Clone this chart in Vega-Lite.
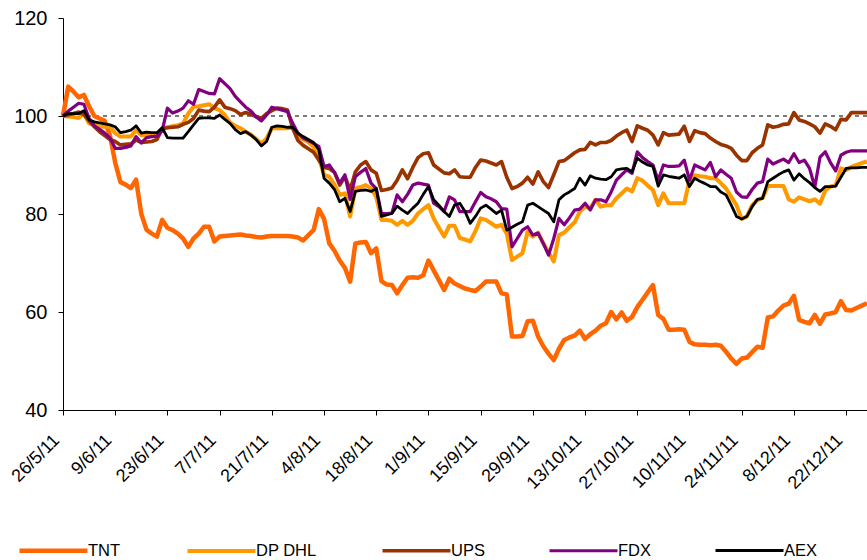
{
"$schema": "https://vega.github.io/schema/vega-lite/v6.json",
"width": 804, "height": 392,
"autosize": {"type": "none"},
"padding": {"left": 63, "top": 18, "right": 0, "bottom": 150},
"config": {"view": {"stroke": null}, "font": "Liberation Sans",
 "legend": {"orient": "none", "legendX": -46, "legendY": 496, "direction": "horizontal", "columns": 5, "symbolType": "stroke", "symbolSize": 4624, "labelFontSize": 16.5, "labelColor": "black", "columnPadding": 58, "labelOffset": -2, "title": null}},
"layer": [
{"data": {"values": [{"ref": 100}]},
 "mark": {"type": "rule", "stroke": "#7a7a7a", "strokeWidth": 2, "strokeDash": [4, 4]},
 "encoding": {"y": {"field": "ref", "type": "quantitative", "scale": {"domain": [40, 120]}}}},
{"data": {"values": [
{"d":"26/5/11","TNT":100,"DP DHL":100,"UPS":100,"FDX":100,"AEX":100},
{"d":"27/5/11","TNT":106,"DP DHL":99.9,"UPS":100.2,"FDX":101,"AEX":100.5},
{"d":"30/5/11","TNT":105,"DP DHL":99.8,"UPS":100.5,"FDX":101.8,"AEX":100.5},
{"d":"31/5/11","TNT":103.8,"DP DHL":99.6,"UPS":100.8,"FDX":102.6,"AEX":100.5},
{"d":"1/6/11","TNT":104.3,"DP DHL":100.5,"UPS":100.3,"FDX":102.4,"AEX":101.1},
{"d":"2/6/11","TNT":102,"DP DHL":98.5,"UPS":99,"FDX":99.5,"AEX":99.2},
{"d":"3/6/11","TNT":100,"DP DHL":98.2,"UPS":97.8,"FDX":98,"AEX":98.8},
{"d":"6/6/11","TNT":99.5,"DP DHL":97.8,"UPS":96.8,"FDX":97.3,"AEX":98.6},
{"d":"7/6/11","TNT":99,"DP DHL":97.8,"UPS":96,"FDX":96.5,"AEX":98.4},
{"d":"8/6/11","TNT":96,"DP DHL":97.8,"UPS":95.2,"FDX":95.5,"AEX":98.2},
{"d":"9/6/11","TNT":90.5,"DP DHL":96.5,"UPS":94.8,"FDX":93.4,"AEX":97.8},
{"d":"10/6/11","TNT":86.5,"DP DHL":95.8,"UPS":94.1,"FDX":93.4,"AEX":96.6},
{"d":"13/6/11","TNT":86,"DP DHL":95.8,"UPS":94.2,"FDX":93.6,"AEX":96.8},
{"d":"14/6/11","TNT":85.3,"DP DHL":95.8,"UPS":94.3,"FDX":93.9,"AEX":97.1},
{"d":"15/6/11","TNT":87,"DP DHL":97.1,"UPS":95.1,"FDX":95.8,"AEX":98},
{"d":"16/6/11","TNT":80,"DP DHL":96.1,"UPS":94.6,"FDX":94.5,"AEX":96.5},
{"d":"17/6/11","TNT":76.8,"DP DHL":96.1,"UPS":94.7,"FDX":95.6,"AEX":96.7},
{"d":"20/6/11","TNT":76,"DP DHL":96.1,"UPS":94.8,"FDX":95.8,"AEX":96.6},
{"d":"21/6/11","TNT":75.4,"DP DHL":96.2,"UPS":95.2,"FDX":95.9,"AEX":96.6},
{"d":"22/6/11","TNT":78.8,"DP DHL":97.5,"UPS":97.4,"FDX":97,"AEX":97.6},
{"d":"23/6/11","TNT":77.2,"DP DHL":97.7,"UPS":97.6,"FDX":101.6,"AEX":95.6},
{"d":"24/6/11","TNT":76.7,"DP DHL":97.9,"UPS":97.7,"FDX":100.6,"AEX":95.5},
{"d":"27/6/11","TNT":76,"DP DHL":98.1,"UPS":97.8,"FDX":101,"AEX":95.5},
{"d":"28/6/11","TNT":75,"DP DHL":98.5,"UPS":98.3,"FDX":101.6,"AEX":95.5},
{"d":"29/6/11","TNT":73.3,"DP DHL":100.5,"UPS":98.7,"FDX":103.1,"AEX":96.8},
{"d":"30/6/11","TNT":75,"DP DHL":101.9,"UPS":99.5,"FDX":102.4,"AEX":98.2},
{"d":"1/7/11","TNT":76,"DP DHL":102,"UPS":101.2,"FDX":105.4,"AEX":99.5},
{"d":"4/7/11","TNT":77.4,"DP DHL":102.2,"UPS":101,"FDX":105,"AEX":99.6},
{"d":"5/7/11","TNT":77.4,"DP DHL":102.4,"UPS":100.9,"FDX":104.6,"AEX":99.6},
{"d":"6/7/11","TNT":74.4,"DP DHL":101.6,"UPS":101.8,"FDX":104.5,"AEX":99.5},
{"d":"7/7/11","TNT":75.4,"DP DHL":101.2,"UPS":103.3,"FDX":107.6,"AEX":100.2},
{"d":"8/7/11","TNT":75.5,"DP DHL":100.2,"UPS":101.8,"FDX":106.6,"AEX":99.3},
{"d":"11/7/11","TNT":75.6,"DP DHL":98.6,"UPS":101.5,"FDX":105.6,"AEX":98.5},
{"d":"12/7/11","TNT":75.7,"DP DHL":98,"UPS":101.1,"FDX":104,"AEX":97.2},
{"d":"13/7/11","TNT":75.8,"DP DHL":97.5,"UPS":100.3,"FDX":102.9,"AEX":96.4},
{"d":"14/7/11","TNT":75.6,"DP DHL":96.8,"UPS":100.7,"FDX":101.8,"AEX":96.8},
{"d":"15/7/11","TNT":75.5,"DP DHL":96.2,"UPS":100.3,"FDX":101,"AEX":96.1},
{"d":"18/7/11","TNT":75.3,"DP DHL":95.3,"UPS":99.9,"FDX":99.8,"AEX":95.2},
{"d":"19/7/11","TNT":75.2,"DP DHL":94.4,"UPS":99.5,"FDX":99,"AEX":93.9},
{"d":"20/7/11","TNT":75.4,"DP DHL":95.4,"UPS":100.5,"FDX":100.2,"AEX":94.8},
{"d":"21/7/11","TNT":75.5,"DP DHL":97.5,"UPS":101.1,"FDX":101.8,"AEX":97.7},
{"d":"22/7/11","TNT":75.5,"DP DHL":97.5,"UPS":101.6,"FDX":101.5,"AEX":98},
{"d":"25/7/11","TNT":75.5,"DP DHL":97.5,"UPS":101.5,"FDX":101.2,"AEX":97.9},
{"d":"26/7/11","TNT":75.5,"DP DHL":97.5,"UPS":101.2,"FDX":100.9,"AEX":97.7},
{"d":"27/7/11","TNT":75.4,"DP DHL":97.7,"UPS":97.5,"FDX":98.5,"AEX":97.7},
{"d":"28/7/11","TNT":75.2,"DP DHL":95.8,"UPS":95,"FDX":96.5,"AEX":96.5},
{"d":"29/7/11","TNT":74.6,"DP DHL":95.2,"UPS":94,"FDX":95.5,"AEX":95.8},
{"d":"1/8/11","TNT":75.7,"DP DHL":94.7,"UPS":93.3,"FDX":95,"AEX":95.2},
{"d":"2/8/11","TNT":76.7,"DP DHL":93.7,"UPS":92.6,"FDX":94.4,"AEX":94.6},
{"d":"3/8/11","TNT":81,"DP DHL":91.5,"UPS":91,"FDX":93.8,"AEX":93.1},
{"d":"4/8/11","TNT":79,"DP DHL":88,"UPS":89.5,"FDX":89.7,"AEX":87.3},
{"d":"5/8/11","TNT":74,"DP DHL":87.6,"UPS":89.3,"FDX":90,"AEX":86.3},
{"d":"8/8/11","TNT":72.5,"DP DHL":86,"UPS":88.5,"FDX":88.5,"AEX":85},
{"d":"9/8/11","TNT":70.5,"DP DHL":83.9,"UPS":85.9,"FDX":86.3,"AEX":82.5},
{"d":"10/8/11","TNT":69,"DP DHL":84.2,"UPS":87.6,"FDX":88,"AEX":83.2},
{"d":"11/8/11","TNT":66.2,"DP DHL":79.5,"UPS":84.9,"FDX":83,"AEX":80.5},
{"d":"12/8/11","TNT":74,"DP DHL":85.2,"UPS":88.6,"FDX":87.6,"AEX":84.6},
{"d":"15/8/11","TNT":74.2,"DP DHL":85.5,"UPS":90,"FDX":88.5,"AEX":84.8},
{"d":"16/8/11","TNT":74.3,"DP DHL":85.9,"UPS":90.7,"FDX":89.3,"AEX":84.9},
{"d":"17/8/11","TNT":72,"DP DHL":85.2,"UPS":89,"FDX":86.3,"AEX":84.6},
{"d":"18/8/11","TNT":73,"DP DHL":83.5,"UPS":88.3,"FDX":85.2,"AEX":85.2},
{"d":"19/8/11","TNT":66.3,"DP DHL":78.8,"UPS":84.8,"FDX":80.1,"AEX":79.5},
{"d":"22/8/11","TNT":65.6,"DP DHL":78.8,"UPS":85,"FDX":80.1,"AEX":79.8},
{"d":"23/8/11","TNT":65.5,"DP DHL":78.6,"UPS":85.3,"FDX":80.2,"AEX":80.1},
{"d":"24/8/11","TNT":63.8,"DP DHL":77.8,"UPS":86.9,"FDX":83.9,"AEX":81.6},
{"d":"25/8/11","TNT":65.5,"DP DHL":78.6,"UPS":89,"FDX":82.5,"AEX":80.8},
{"d":"26/8/11","TNT":67,"DP DHL":77.8,"UPS":87.2,"FDX":84,"AEX":80.1},
{"d":"29/8/11","TNT":67.1,"DP DHL":78.6,"UPS":89.5,"FDX":85.9,"AEX":81.2},
{"d":"30/8/11","TNT":67,"DP DHL":80.1,"UPS":91.5,"FDX":86.3,"AEX":82.2},
{"d":"31/8/11","TNT":67.5,"DP DHL":81,"UPS":92.3,"FDX":86.1,"AEX":84},
{"d":"1/9/11","TNT":70.5,"DP DHL":81.8,"UPS":92.5,"FDX":85.9,"AEX":85.6},
{"d":"2/9/11","TNT":68.5,"DP DHL":79.1,"UPS":90,"FDX":82.2,"AEX":82.9},
{"d":"5/9/11","TNT":66.5,"DP DHL":77.2,"UPS":89.2,"FDX":81.5,"AEX":81.8},
{"d":"6/9/11","TNT":64.5,"DP DHL":75.4,"UPS":88.4,"FDX":80.5,"AEX":80.5},
{"d":"7/9/11","TNT":66.8,"DP DHL":77.6,"UPS":88.2,"FDX":83.5,"AEX":79.5},
{"d":"8/9/11","TNT":65.8,"DP DHL":77.6,"UPS":89,"FDX":82.9,"AEX":81.8},
{"d":"9/9/11","TNT":65.3,"DP DHL":75.1,"UPS":87.6,"FDX":80.5,"AEX":82.2},
{"d":"12/9/11","TNT":64.8,"DP DHL":74.8,"UPS":87.5,"FDX":80.5,"AEX":80.5},
{"d":"13/9/11","TNT":64.5,"DP DHL":74.4,"UPS":87.5,"FDX":80.5,"AEX":78.1},
{"d":"14/9/11","TNT":64.3,"DP DHL":76.5,"UPS":89.5,"FDX":82.5,"AEX":79.5},
{"d":"15/9/11","TNT":65.2,"DP DHL":79.1,"UPS":91,"FDX":84.4,"AEX":81.2},
{"d":"16/9/11","TNT":66.2,"DP DHL":78.8,"UPS":90.8,"FDX":83.5,"AEX":81.8},
{"d":"19/9/11","TNT":66.2,"DP DHL":78.1,"UPS":90.4,"FDX":83.1,"AEX":81},
{"d":"20/9/11","TNT":66.2,"DP DHL":77.4,"UPS":90,"FDX":82.5,"AEX":80.1},
{"d":"21/9/11","TNT":63.8,"DP DHL":77.8,"UPS":90.7,"FDX":81.1,"AEX":80.8},
{"d":"22/9/11","TNT":63.6,"DP DHL":76,"UPS":87.5,"FDX":81,"AEX":76.7},
{"d":"23/9/11","TNT":55,"DP DHL":70.6,"UPS":85.2,"FDX":73.3,"AEX":77.3},
{"d":"26/9/11","TNT":55,"DP DHL":71.3,"UPS":85.6,"FDX":75,"AEX":77.9},
{"d":"27/9/11","TNT":55.1,"DP DHL":72,"UPS":86.3,"FDX":76.7,"AEX":78.4},
{"d":"28/9/11","TNT":58.1,"DP DHL":76.4,"UPS":87.5,"FDX":77.4,"AEX":81.8},
{"d":"29/9/11","TNT":58.2,"DP DHL":75.4,"UPS":86.1,"FDX":75.7,"AEX":82.2},
{"d":"30/9/11","TNT":55,"DP DHL":76.2,"UPS":88.6,"FDX":76.1,"AEX":81.5},
{"d":"3/10/11","TNT":53,"DP DHL":74,"UPS":86.6,"FDX":74,"AEX":80.8},
{"d":"4/10/11","TNT":51.5,"DP DHL":72.2,"UPS":85.4,"FDX":71.6,"AEX":80.1},
{"d":"5/10/11","TNT":50.2,"DP DHL":70.3,"UPS":88,"FDX":75,"AEX":78.4},
{"d":"6/10/11","TNT":52.5,"DP DHL":75.7,"UPS":90.7,"FDX":79.1,"AEX":82.9},
{"d":"7/10/11","TNT":54.3,"DP DHL":76.2,"UPS":90.9,"FDX":77.8,"AEX":83.9},
{"d":"10/10/11","TNT":54.8,"DP DHL":77.3,"UPS":91.7,"FDX":79.2,"AEX":84.5},
{"d":"11/10/11","TNT":55.2,"DP DHL":78.3,"UPS":92.5,"FDX":80.8,"AEX":85.2},
{"d":"12/10/11","TNT":56.2,"DP DHL":80.5,"UPS":93.1,"FDX":81,"AEX":87.3},
{"d":"13/10/11","TNT":54.5,"DP DHL":81.5,"UPS":93.2,"FDX":82.2,"AEX":85.9},
{"d":"14/10/11","TNT":55.5,"DP DHL":81.2,"UPS":94.6,"FDX":80.8,"AEX":87.8},
{"d":"17/10/11","TNT":56.2,"DP DHL":82.9,"UPS":94.1,"FDX":82.9,"AEX":87.3},
{"d":"18/10/11","TNT":57.2,"DP DHL":81.5,"UPS":94.6,"FDX":82.9,"AEX":87.1},
{"d":"19/10/11","TNT":57.7,"DP DHL":81.8,"UPS":94.6,"FDX":82.5,"AEX":87},
{"d":"20/10/11","TNT":60,"DP DHL":81.8,"UPS":95,"FDX":84.5,"AEX":87.6},
{"d":"21/10/11","TNT":58.5,"DP DHL":83.2,"UPS":95.9,"FDX":86.9,"AEX":89},
{"d":"24/10/11","TNT":59.9,"DP DHL":84.2,"UPS":96.6,"FDX":88,"AEX":89.2},
{"d":"25/10/11","TNT":58.2,"DP DHL":85.2,"UPS":97.1,"FDX":89,"AEX":89.3},
{"d":"26/10/11","TNT":59,"DP DHL":84.6,"UPS":94.8,"FDX":88.3,"AEX":88.6},
{"d":"27/10/11","TNT":61,"DP DHL":87.3,"UPS":98,"FDX":92.7,"AEX":91.4},
{"d":"28/10/11","TNT":62.5,"DP DHL":86.8,"UPS":97.5,"FDX":91.5,"AEX":90.6},
{"d":"31/10/11","TNT":64,"DP DHL":85.8,"UPS":97.1,"FDX":90.7,"AEX":90},
{"d":"1/11/11","TNT":65.5,"DP DHL":84.9,"UPS":96.1,"FDX":90,"AEX":89.7},
{"d":"2/11/11","TNT":59.4,"DP DHL":81.8,"UPS":94.1,"FDX":86.9,"AEX":85.7},
{"d":"3/11/11","TNT":58.6,"DP DHL":84.2,"UPS":96.6,"FDX":90,"AEX":88},
{"d":"4/11/11","TNT":56.4,"DP DHL":82.2,"UPS":96.1,"FDX":89.7,"AEX":87.7},
{"d":"7/11/11","TNT":56.4,"DP DHL":82.2,"UPS":96.2,"FDX":89.7,"AEX":87.5},
{"d":"8/11/11","TNT":56.5,"DP DHL":82.2,"UPS":96.3,"FDX":89.8,"AEX":87.3},
{"d":"9/11/11","TNT":56.4,"DP DHL":82.2,"UPS":97.9,"FDX":91,"AEX":88},
{"d":"10/11/11","TNT":53.9,"DP DHL":86.9,"UPS":94.8,"FDX":86.9,"AEX":85.6},
{"d":"11/11/11","TNT":53.4,"DP DHL":87.9,"UPS":97,"FDX":90,"AEX":87.3},
{"d":"14/11/11","TNT":53.3,"DP DHL":87.7,"UPS":96.6,"FDX":89.5,"AEX":86.7},
{"d":"15/11/11","TNT":53.3,"DP DHL":87.6,"UPS":96.4,"FDX":89,"AEX":86.2},
{"d":"16/11/11","TNT":53.2,"DP DHL":87.3,"UPS":95.5,"FDX":90.5,"AEX":85.6},
{"d":"17/11/11","TNT":53.3,"DP DHL":87.3,"UPS":94.8,"FDX":87.6,"AEX":85.6},
{"d":"18/11/11","TNT":53.1,"DP DHL":86.3,"UPS":94.2,"FDX":89,"AEX":84.5},
{"d":"21/11/11","TNT":51.9,"DP DHL":85.2,"UPS":93.9,"FDX":88.1,"AEX":83.9},
{"d":"22/11/11","TNT":50.5,"DP DHL":83.5,"UPS":93.4,"FDX":87.3,"AEX":81.8},
{"d":"23/11/11","TNT":49.4,"DP DHL":81.8,"UPS":92,"FDX":84.5,"AEX":79.5},
{"d":"24/11/11","TNT":50.5,"DP DHL":79,"UPS":90.9,"FDX":83.5,"AEX":79},
{"d":"25/11/11","TNT":50.7,"DP DHL":79.5,"UPS":90.9,"FDX":83.4,"AEX":79.5},
{"d":"28/11/11","TNT":51.8,"DP DHL":81.8,"UPS":92.5,"FDX":85,"AEX":81.5},
{"d":"29/11/11","TNT":52.9,"DP DHL":82.8,"UPS":93.4,"FDX":86.3,"AEX":83},
{"d":"30/11/11","TNT":52.7,"DP DHL":83.3,"UPS":94.1,"FDX":86.6,"AEX":83.2},
{"d":"1/12/11","TNT":58.9,"DP DHL":85.7,"UPS":98.2,"FDX":91.2,"AEX":86.6},
{"d":"2/12/11","TNT":59.1,"DP DHL":85.7,"UPS":97.7,"FDX":90.2,"AEX":87.3},
{"d":"5/12/11","TNT":60.3,"DP DHL":85.7,"UPS":97.9,"FDX":90.7,"AEX":88},
{"d":"6/12/11","TNT":61.3,"DP DHL":85.7,"UPS":98.3,"FDX":91.2,"AEX":88.6},
{"d":"7/12/11","TNT":61.7,"DP DHL":83,"UPS":98.4,"FDX":90.5,"AEX":89},
{"d":"8/12/11","TNT":63.3,"DP DHL":82.5,"UPS":100.7,"FDX":92.3,"AEX":86.9},
{"d":"9/12/11","TNT":58.4,"DP DHL":83.4,"UPS":99.2,"FDX":90.5,"AEX":88.2},
{"d":"12/12/11","TNT":58,"DP DHL":83,"UPS":98.9,"FDX":91,"AEX":87.2},
{"d":"13/12/11","TNT":57.7,"DP DHL":82.6,"UPS":98.4,"FDX":89.3,"AEX":86.4},
{"d":"14/12/11","TNT":59.4,"DP DHL":83,"UPS":97.8,"FDX":85.5,"AEX":85.4},
{"d":"15/12/11","TNT":57.6,"DP DHL":82.1,"UPS":96.5,"FDX":91.6,"AEX":84.6},
{"d":"16/12/11","TNT":59.5,"DP DHL":84.8,"UPS":98.4,"FDX":92.7,"AEX":85.6},
{"d":"19/12/11","TNT":59.7,"DP DHL":85.6,"UPS":97.9,"FDX":90.5,"AEX":85.6},
{"d":"20/12/11","TNT":60,"DP DHL":85.8,"UPS":97.2,"FDX":88.8,"AEX":85.7},
{"d":"21/12/11","TNT":62.2,"DP DHL":89.3,"UPS":99.3,"FDX":92,"AEX":87.5},
{"d":"22/12/11","TNT":60.4,"DP DHL":89,"UPS":99.2,"FDX":92.6,"AEX":89.3},
{"d":"23/12/11","TNT":60.3,"DP DHL":89.6,"UPS":100.7,"FDX":92.9,"AEX":89.4},
{"d":"26/12/11","TNT":60.8,"DP DHL":90,"UPS":100.7,"FDX":92.9,"AEX":89.4},
{"d":"27/12/11","TNT":61.3,"DP DHL":90.4,"UPS":100.7,"FDX":92.9,"AEX":89.5},
{"d":"28/12/11","TNT":61.8,"DP DHL":90.7,"UPS":100.7,"FDX":92.9,"AEX":89.5}
]},
 "transform": [{"fold": ["TNT", "DP DHL", "UPS", "FDX", "AEX"], "as": ["series", "value"]}],
 "mark": {"type": "line", "strokeJoin": "round"},
 "encoding": {
  "x": {"field": "d", "type": "ordinal", "sort": null, "scale": {"type": "point", "padding": 0},
   "axis": {"values": ["26/5/11","9/6/11","23/6/11","7/7/11","21/7/11","4/8/11","18/8/11","1/9/11","15/9/11","29/9/11","13/10/11","27/10/11","10/11/11","24/11/11","8/12/11","22/12/11"],
    "title": null, "labelAngle": -45, "labelFontSize": 18, "labelColor": "black", "domainColor": "black", "tickColor": "black", "tickSize": 5, "labelPadding": 16, "labelOffset": -13, "grid": false}},
  "y": {"field": "value", "type": "quantitative", "scale": {"domain": [40, 120]},
   "axis": {"values": [40, 60, 80, 100, 120], "title": null, "grid": false, "labelFontSize": 20, "labelColor": "black", "domainColor": "black", "tickColor": "black", "tickSize": 5, "labelPadding": 11}},
  "color": {"field": "series", "type": "nominal", "title": null,
   "scale": {"domain": ["TNT", "DP DHL", "UPS", "FDX", "AEX"], "range": ["#FF6600", "#FF9900", "#993300", "#800080", "#000000"]}},
  "strokeWidth": {"field": "series", "type": "nominal", "title": null,
   "scale": {"domain": ["TNT", "DP DHL", "UPS", "FDX", "AEX"], "range": [4.5, 2.8, 2.8, 2.8, 2.8]}}
 }}
]
}
